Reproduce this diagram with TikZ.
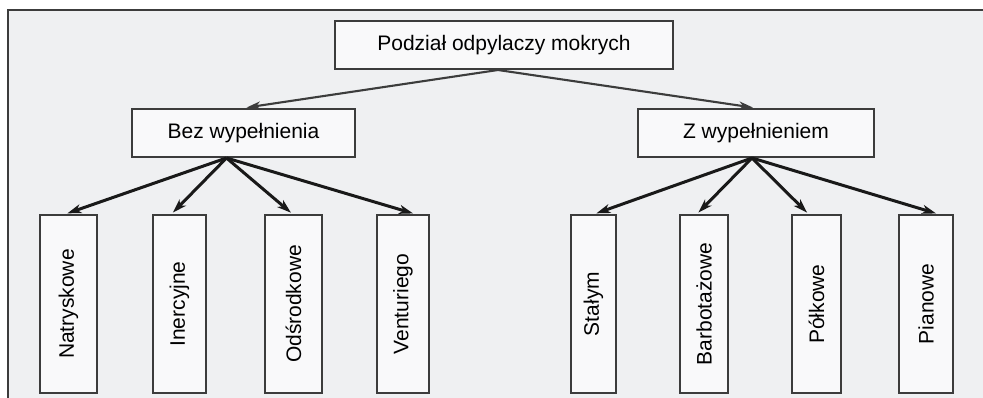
\documentclass[tikz,border=0pt]{standalone}
\usepackage{fontspec}
\setmainfont{Liberation Sans}
\usepackage{xcolor}
\usepackage{tikz}
\usetikzlibrary{arrows.meta}

\definecolor{panel}{HTML}{EFF0F2}
\definecolor{boxfill}{HTML}{F9F9FA}
\definecolor{edge}{HTML}{3C3C3C}

\begin{document}
\begin{tikzpicture}[x=1pt, y=-1pt,
    box/.style={draw=edge, line width=2pt, fill=boxfill, inner sep=0pt,
      minimum height=48pt, font=\fontsize{21}{25}\selectfont},
    kind/.style={box, rotate=90, minimum width=178pt},
    toparrow/.style={-{Stealth[length=14pt, width=8pt, inset=4pt]},
      line width=2.1pt, edge, shorten >=3pt},
    subarrow/.style={-{Stealth[length=14pt, width=9pt, inset=4pt]},
      line width=3pt, black!90, shorten >=2pt}]
    \useasboundingbox (0,0) rectangle (983,398);

    % Background plane
    \fill[panel] (8,10) rectangle (983,398);
    \draw[line width=1.6pt, edge] (8,398) -- (8,10) -- (983,10);

    % Main split
    \node[box, minimum width=338pt] (podzial) at (504,45)
      {Podział odpylaczy mokrych};
    \node[box, minimum width=223pt] (bez) at (243.5,133) {Bez wypełnienia};
    \node[box, minimum width=236pt] (zwyp) at (756,133) {Z wypełnieniem};

    \draw[toparrow] ([xshift=-6pt]podzial.south) -- (bez.north);
    \draw[toparrow] ([xshift=-6pt]podzial.south) -- (zwyp.north);

    % Without packing
    \node[kind, minimum height=57pt] (natr) at (68.5,304) {Natryskowe};
    \node[kind, minimum height=53pt] (iner) at (179.5,304) {Inercyjne};
    \node[kind, minimum height=57pt] (odsr) at (293.5,304) {Odśrodkowe};
    \node[kind, minimum height=52pt] (vent) at (403,304) {Venturiego};

    \draw[subarrow] ([xshift=-17pt]bez.south) -- ([xshift=-3pt]natr.east);
    \draw[subarrow] ([xshift=-17pt]bez.south) -- ([xshift=-8pt]iner.east);
    \draw[subarrow] ([xshift=-17pt]bez.south) -- ([xshift=-1pt]odsr.east);
    \draw[subarrow] ([xshift=-17pt]bez.south) -- ([xshift=12pt]vent.east);

    % With packing
    \node[kind, minimum height=45pt] (staly) at (593.5,304) {Stałym};
    \node[kind, minimum height=48pt] (barb) at (704,304) {Barbotażowe};
    \node[kind, minimum height=49pt] (polk) at (816.5,304) {Półkowe};
    \node[kind, minimum height=54pt] (pian) at (926,304) {Pianowe};

    \draw[subarrow] ([xshift=-4pt]zwyp.south) -- ([xshift=1pt]staly.east);
    \draw[subarrow] ([xshift=-4pt]zwyp.south) -- ([xshift=-7pt]barb.east);
    \draw[subarrow] ([xshift=-4pt]zwyp.south) -- ([xshift=-8pt]polk.east);
    \draw[subarrow] ([xshift=-4pt]zwyp.south) -- ([xshift=12pt]pian.east);
\end{tikzpicture}
\end{document}
